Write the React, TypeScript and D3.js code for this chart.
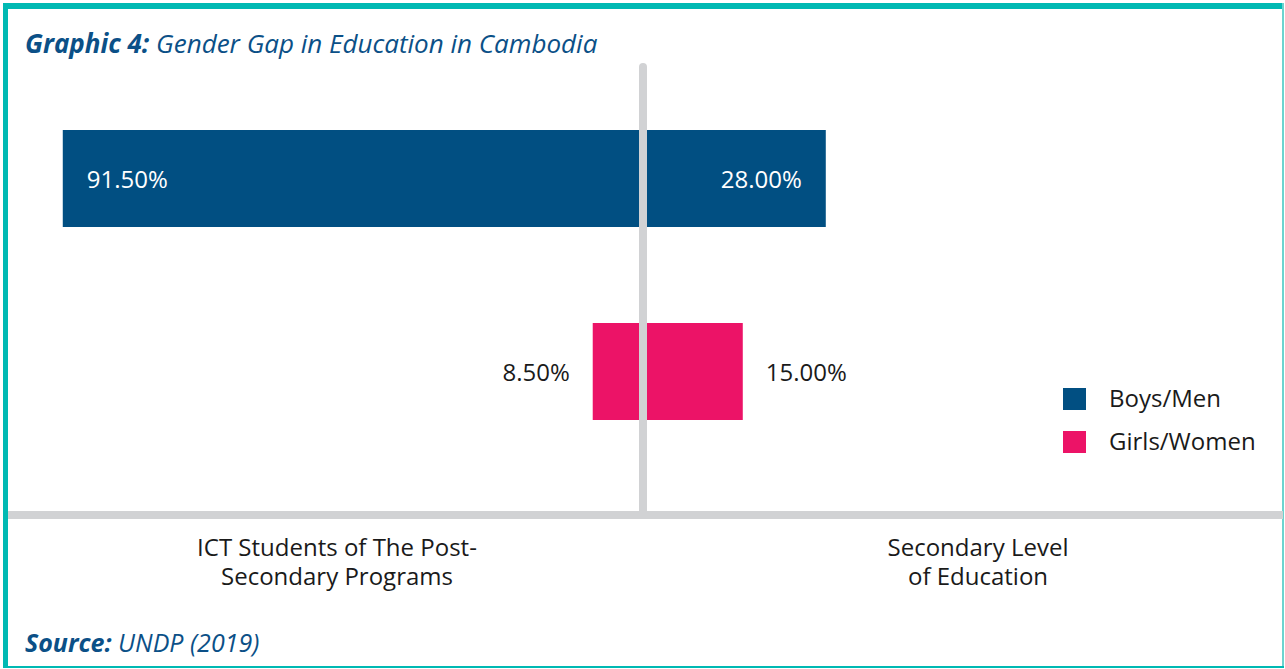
import React from "react";
import * as d3 from "d3";

const categories = ["ICT Students of The Post-Secondary Programs", "Secondary Level of Education"];
const categoryLines = [["ICT Students of The Post-", "Secondary Programs"], ["Secondary Level", "of Education"]];
const seriesNames = ["Boys/Men", "Girls/Women"];
const leftValues = [91.5, 8.5]; // ICT Students (drawn to the left)
const rightValues = [28.0, 15.0]; // Secondary Level (drawn to the right)
const seriesColors = ["#014f82", "#ec1367"];

const W = 1285;
const H = 669;

export default function App() {
  const x = d3.scaleLinear().domain([-100, 100]).range([8.5, 1285.5]);
  const y = d3.scalePoint().domain(seriesNames).range([178.5, 371.5]);
  const bh = 97;
  const yTop = (s: string) => (y(s) as number) - bh / 2;
  const fmt = (v: number) => v.toFixed(2) + "%";
  const font = "'Open Sans', 'Noto Sans', sans-serif";
  const teal = "#00b9b3";
  const grey = "#d1d2d4";
  const titleBlue = "#0b5087";

  return (
    <svg width={W} height={H} style={{ position: "absolute", left: 0, top: 0, background: "#fff" }} fontFamily={font}>
      {/* frame */}
      <rect x={3} y={3} width={W - 4} height={6} fill={teal} />
      <rect x={3} y={3} width={5} height={H - 4} fill={teal} />
      <rect x={W - 3} y={3} width={2} height={H - 4} fill="#6dd3cf" />
      <rect x={3} y={H - 3} width={W - 4} height={2} fill={teal} />

      {/* title */}
      <text x={25} y={53} fontSize={26} fontStyle="italic" fill={titleBlue}>
        <tspan fontWeight="bold">Graphic 4:</tspan> Gender Gap in Education in Cambodia
      </text>

      {/* bars */}
      {seriesNames.map((s, i) => {
        const yt = yTop(s);
        const x0 = x(0);
        const xl = x(-leftValues[i]);
        const xr = x(rightValues[i]);
        const cy = yt + bh / 2 + 9;
        const inside = i === 0;
        return (
          <g key={s}>
            <rect x={xl} y={yt} width={x0 - xl} height={bh} fill={seriesColors[i]} />
            <rect x={x0} y={yt} width={xr - x0} height={bh} fill={seriesColors[i]} />
            <text
              x={inside ? xl + 24 : xl - 23}
              y={cy}
              fontSize={24}
              textAnchor={inside ? "start" : "end"}
              fill={inside ? "#ffffff" : "#1a1a1a"}
            >
              {fmt(leftValues[i])}
            </text>
            <text
              x={inside ? xr - 24 : xr + 23}
              y={cy}
              fontSize={24}
              textAnchor={inside ? "end" : "start"}
              fill={inside ? "#ffffff" : "#1a1a1a"}
            >
              {fmt(rightValues[i])}
            </text>
          </g>
        );
      })}

      {/* center & base lines */}
      <line x1={643} x2={643} y1={67} y2={515} stroke={grey} strokeWidth={8} strokeLinecap="round" />
      <rect x={8} y={511} width={W - 10} height={8} fill={grey} />

      {/* category labels */}
      {categories.map((c, i) =>
        categoryLines[i].map((l, j) => (
          <text
            key={c + j}
            x={i === 0 ? 337 : 978}
            y={556 + j * 29}
            textAnchor="middle"
            fontSize={24}
            fill="#1a1a1a"
          >
            {l}
          </text>
        ))
      )}

      {/* legend */}
      {seriesNames.map((s, i) => (
        <g key={s} transform={`translate(1063, ${388 + i * 43})`}>
          <rect width={23} height={22} fill={seriesColors[i]} />
          <text x={46} y={19} fontSize={24} fill="#1a1a1a">
            {s}
          </text>
        </g>
      ))}

      {/* source */}
      <text x={25} y={652} fontSize={25} fontStyle="italic" fill={titleBlue}>
        <tspan fontWeight="bold">Source:</tspan> UNDP (2019)
      </text>
    </svg>
  );
}
